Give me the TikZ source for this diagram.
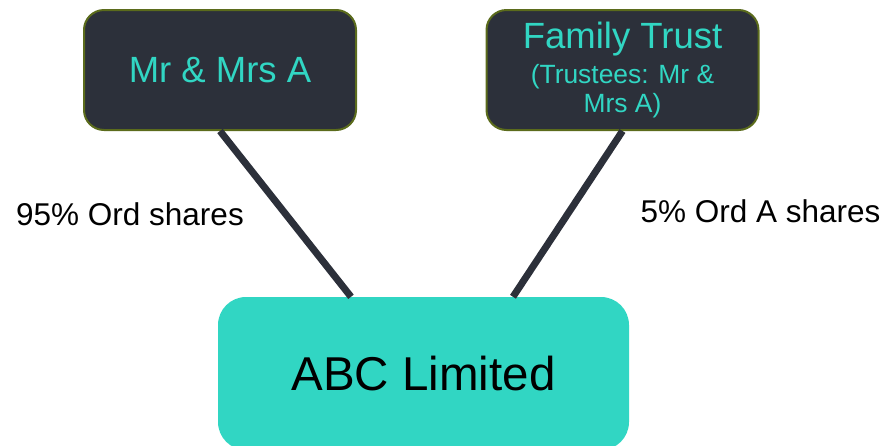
\documentclass[tikz,border=0pt]{standalone}
\usepackage{fontspec}
\setmainfont{Liberation Sans}
\usetikzlibrary{positioning}

\definecolor{boxdark}{HTML}{2C303A}
\definecolor{boxedge}{HTML}{5B6B1C}
\definecolor{teal}{HTML}{31D6C3}

\newcommand{\bigfont}{\fontsize{36.5}{38}\selectfont}
\newcommand{\smallfont}{\fontsize{26.4}{29}\selectfont}

\begin{document}
\begin{tikzpicture}[
        x=1pt, y=-1pt,
        owner/.style={rectangle, draw=boxedge, line width=2pt, fill=boxdark, rounded corners=20pt, minimum width=272pt, minimum height=120pt, inner sep=0, align=center, text=teal},
        company/.style={rectangle, fill=teal, rounded corners=28pt, minimum width=411pt, minimum height=153pt, inner sep=0, align=center, text=black},
        link/.style={line width=7pt, draw=boxdark},
        share/.style={inner sep=0, text=black, font=\fontsize{31.5}{36}\selectfont}
    ]

        % page frame
        \useasboundingbox (0,0) rectangle (884,445);
        \clip (0,0) rectangle (884,445);

        % Shareholders
        \node[owner, font=\bigfont] (mra) at (220,70) {Mr \& Mrs A};
        \node[owner, font=\smallfont] (trust) at (622.5,70) {\bigfont Family Trust\\[6pt]
            \smallfont (Trustees: Mr \&\\Mrs A)};

        % Company (bottom edge runs off the page)
        \node[company, font=\fontsize{47.5}{50}\selectfont] (abc) at (423.5,373.5) {ABC Limited};

        % Holdings
        \draw[link] (mra.south) -- ([xshift=-72.5pt]abc.north);
        \draw[link] (trust.south) -- ([xshift=89.5pt]abc.north);

        \node[share] (ord) at (130,214) {95\% Ord shares};
        \node[share] (orda) at (760.5,211) {5\% Ord A shares};

    \end{tikzpicture}
\end{document}
